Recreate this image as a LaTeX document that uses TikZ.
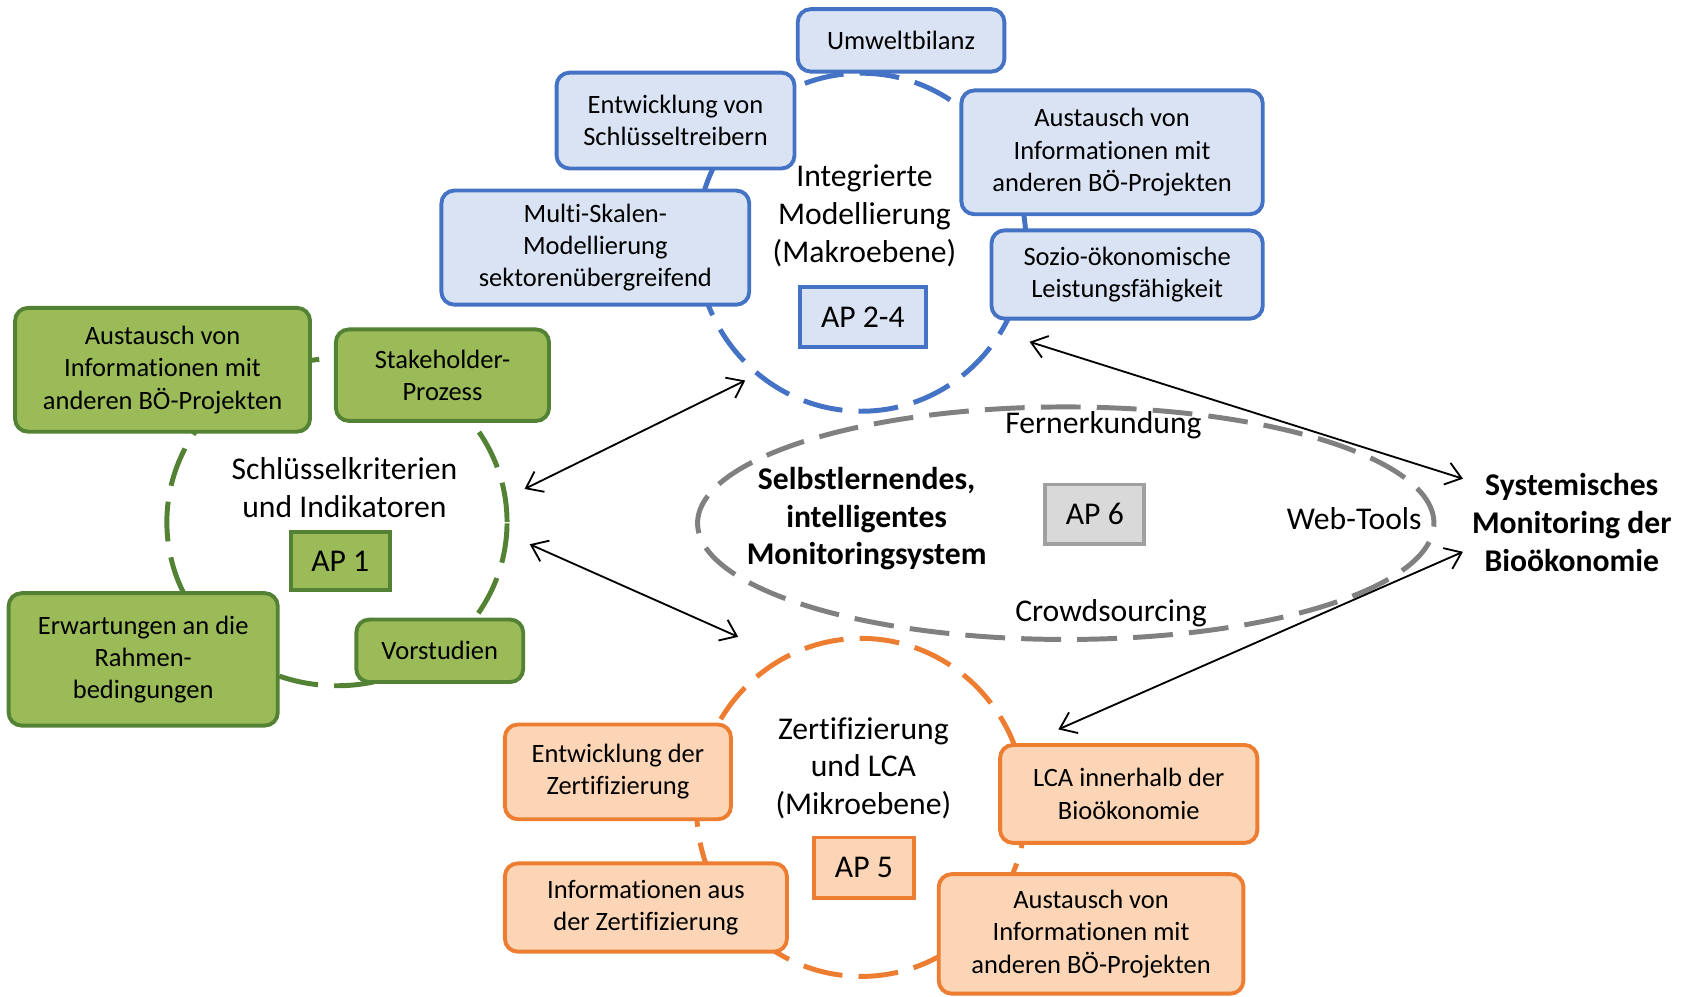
\documentclass[tikz,border=0pt]{standalone}
\usepackage{fontspec}
\setmainfont{Carlito}[Ligatures={NoCommon}]
\usetikzlibrary{shapes.geometric,arrows.meta}
\definecolor{gFill}{RGB}{155,187,89}
\definecolor{gLine}{RGB}{84,130,53}
\definecolor{bFill}{RGB}{218,227,243}
\definecolor{bLine}{RGB}{68,114,196}
\definecolor{oFill}{RGB}{251,213,181}
\definecolor{oLine}{RGB}{237,125,49}
\definecolor{aFill}{RGB}{217,217,217}
\definecolor{aLine}{RGB}{160,160,160}
\definecolor{mLine}{RGB}{128,128,128}

\begin{document}
\begin{tikzpicture}[
  x=0.5pt, y=-0.5pt,
  font=\fontsize{12.3}{15}\selectfont,
  >={Straight Barb[length=7pt,width=10.5pt]},
  box/.style={rounded corners=6pt, line width=1.8pt, align=center, inner sep=2pt},
  gbox/.style={box, draw=gLine, fill=gFill},
  bbox/.style={box, draw=bLine, fill=bFill},
  obox/.style={box, draw=oLine, fill=oFill},
  apbox/.style={line width=1.8pt, align=center, font=\fontsize{14.7}{17.5}\selectfont},
  ring/.style={ellipse, line width=2.3pt, inner sep=0pt, outer sep=0pt, dash pattern=on 18.5pt off 7.5pt},
  head/.style={align=center, font=\fontsize{14.7}{17.5}\selectfont},
  link/.style={<->, line width=0.85pt},
]
\useasboundingbox (0,0) rectangle (1568,926);

% ---- rings ----
\node[ring, draw=gLine, minimum width=158pt, minimum height=152pt] (ring1) at (313,485) {};
\node[ring, draw=bLine, minimum width=153pt, minimum height=157pt] (ring2) at (800,225) {};
\node[ring, draw=oLine, minimum width=153pt, minimum height=157pt] (ring3) at (800,750) {};
\node[ring, draw=mLine, minimum width=342pt, minimum height=108pt] (ring6) at (990,486) {};

% ---- AP 1 ----
\node[gbox, minimum width=137pt, minimum height=57.5pt] (g1) at (151,343.5) {Austausch von\\Informationen mit\\anderen BÖ-Projekten};
\node[gbox, minimum width=99pt, minimum height=42.5pt] (g2) at (411,348.5) {Stakeholder-\\Prozess};
\node[gbox, minimum width=125pt, minimum height=61.5pt] (g3) at (133,612.5) {Erwartungen an die\\Rahmen-\\bedingungen};
\node[gbox, minimum width=77.5pt, minimum height=29pt] (g4) at (408.5,604.5) {Vorstudien};
\node[head] (t1) at (320,453) {Schlüsselkriterien\\und Indikatoren};
\node[apbox, draw=gLine, fill=gFill, minimum width=46pt, minimum height=27pt] (ap1) at (316,521) {AP 1};

% ---- AP 2-4 ----
\node[bbox, minimum width=96pt, minimum height=29pt] (b1) at (837,37.5) {Umweltbilanz};
\node[bbox, minimum width=110.5pt, minimum height=44.5pt] (b2) at (627.5,112) {Entwicklung von\\Schlüsseltreibern};
\node[bbox, minimum width=140pt, minimum height=57.5pt] (b3) at (1033,141.5) {Austausch von\\Informationen mit\\anderen BÖ-Projekten};
\node[bbox, minimum width=143pt, minimum height=53pt] (b4) at (553,230) {Multi-Skalen-\\Modellierung\\sektorenübergreifend};
\node[bbox, minimum width=126pt, minimum height=41pt] (b5) at (1047,255) {Sozio-ökonomische\\Leistungsfähigkeit};
\node[head] (t2) at (803,200.5) {Integrierte\\Modellierung\\(Makroebene)};
\node[apbox, draw=bLine, fill=bFill, minimum width=58.5pt, minimum height=27.5pt] (ap2) at (801.5,294.5) {AP 2-4};

% ---- AP 5 ----
\node[obox, minimum width=105pt, minimum height=44pt] (o1) at (574,717) {Entwicklung der\\Zertifizierung};
\node[obox, minimum width=131pt, minimum height=41pt] (o2) at (600,843) {Informationen aus\\der Zertifizierung};
\node[obox, minimum width=119.5pt, minimum height=45.5pt] (o3) at (1048.5,737.5) {LCA innerhalb der\\Bioökonomie};
\node[obox, minimum width=141.5pt, minimum height=55.5pt] (o4) at (1013.5,867.5) {Austausch von\\Informationen mit\\anderen BÖ-Projekten};
\node[head] (t3) at (802,713.5) {Zertifizierung\\und LCA\\(Mikroebene)};
\node[apbox, draw=oLine, fill=oFill, minimum width=46.5pt, minimum height=28pt] (ap5) at (802.5,806) {AP 5};

% ---- AP 6 ----
\node[head] (m1) at (1025,395) {Fernerkundung};
\node[head] (m2) at (1032,570) {Crowdsourcing};
\node[head] (m3) at (1258,481.5) {Web-Tools};
\node[head, font=\fontsize{14.7}{17.5}\selectfont\bfseries] (t6) at (805,482) {Selbstlernendes,\\intelligentes\\Monitoringsystem};
\node[apbox, draw=aLine, fill=aFill, minimum width=46pt, minimum height=27.5pt] (ap6) at (1017,477.5) {AP 6};
\node[head, font=\fontsize{14.7}{17.5}\selectfont\bfseries, inner sep=4pt] (sysmon) at (1460,485.5) {Systemisches\\Monitoring der\\Bioökonomie};

% ---- links ----
\draw[link, shorten <=10pt, shorten >=6.75pt] (ring1.8.9) -- (ring2.232.4);
\draw[link, shorten <=11.75pt, shorten >=23.75pt] (ring1.-4.5) -- (ring3.117);
\draw[link, shorten <=14.2pt] (ring2.-33.2) -- (sysmon.158);
\draw[link, shorten <=21.75pt] (ring3.21.6) -- (sysmon.195);

\end{tikzpicture}
\end{document}
